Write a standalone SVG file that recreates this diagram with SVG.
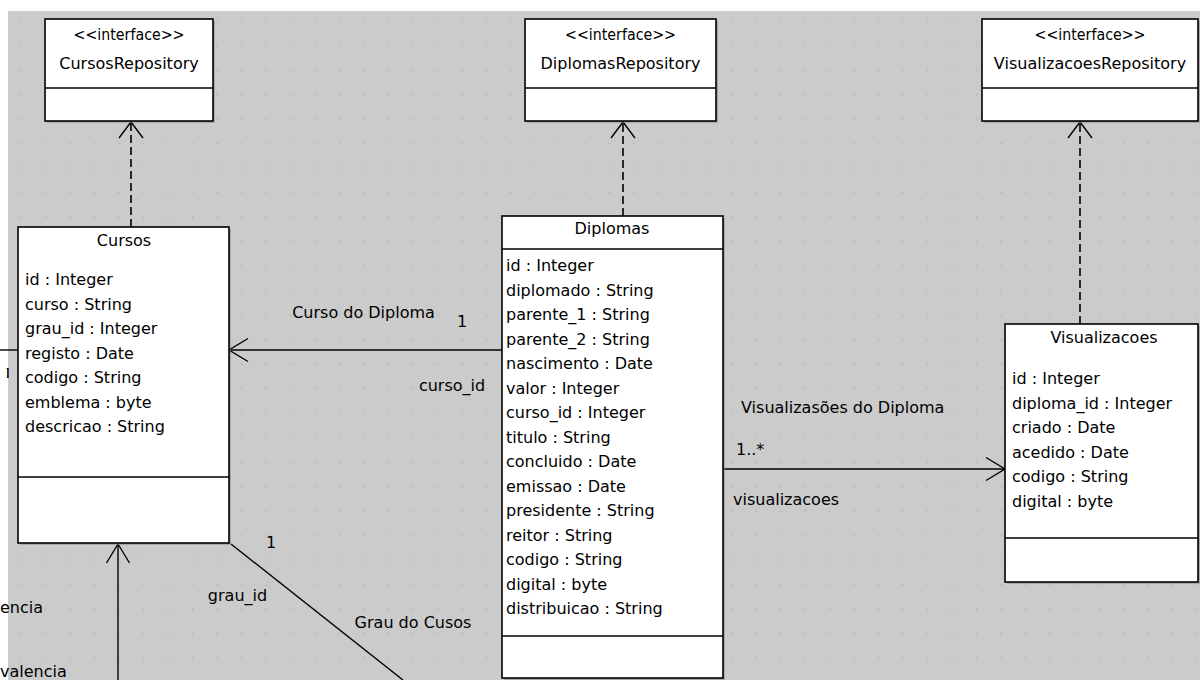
<svg xmlns="http://www.w3.org/2000/svg" width="1200" height="680" viewBox="0 0 1200 680">
<style>
text{font-family:"DejaVu Sans","Liberation Sans",sans-serif;font-size:16px;fill:#000}
.c{text-anchor:middle}
.box{fill:#fff;stroke:#000;stroke-width:1.6}
.sh{fill:#8c8c8c;opacity:.55}
.div{stroke:#000;stroke-width:1.6}
.ln{fill:none;stroke:#000;stroke-width:1.4}
.dash{fill:none;stroke:#000;stroke-width:1.6;stroke-dasharray:8 4}
</style>
<defs>
<pattern id="dots" x="20.25" y="20.25" width="24.5" height="24.5" patternUnits="userSpaceOnUse">
<rect width="1.5" height="1.5" fill="#b2b2b2"/>
</pattern>
<marker id="open" viewBox="-21 -14 23 28" refX="0" refY="0" markerWidth="23" markerHeight="28" markerUnits="userSpaceOnUse" orient="auto">
<path d="M-19,-11.5 L0,0 L-19,11.5" fill="none" stroke="#000" stroke-width="1.4"/>
</marker>
<marker id="real" viewBox="-18 -14 20 28" refX="0" refY="0" markerWidth="20" markerHeight="28" markerUnits="userSpaceOnUse" orient="auto">
<path d="M-16,-12 L0,0 L-16,12" fill="none" stroke="#000" stroke-width="1.4"/>
</marker>
<clipPath id="lc"><rect x="6.5" y="368" width="2.5" height="10"/></clipPath>
</defs>
<rect width="1200" height="680" fill="#fff"/>
<rect x="8" y="11" width="1192" height="669" fill="#cbcbcb"/>
<rect x="8" y="11" width="1192" height="669" fill="url(#dots)"/>

<g id="connectors">
<path class="dash" d="M131,227 L131,122" marker-end="url(#real)"/>
<path class="dash" d="M623,216 L623,122" marker-end="url(#real)"/>
<path class="dash" d="M1080,324 L1080,122" marker-end="url(#real)"/>
<path class="ln" d="M502,350 L229,350" marker-end="url(#open)"/>
<path class="ln" d="M723,469 L1005,469" marker-end="url(#open)"/>
<path class="ln" d="M118,680 L118,544" marker-end="url(#open)"/>
<path class="ln" d="M231,544 L403,680"/>
<path class="ln" d="M0,350 L18,350"/>
<text x="363.5" y="318" class="c">Curso do Diploma</text>
<text x="462" y="327" class="c">1</text>
<text x="452" y="391" class="c">curso_id</text>
<text x="741" y="413">Visualizasões do Diploma</text>
<text x="736" y="455">1..*</text>
<text x="733" y="505">visualizacoes</text>
<text x="271" y="548" class="c">1</text>
<text x="237.5" y="601" class="c">grau_id</text>
<text x="413" y="628" class="c">Grau do Cusos</text>
<text x="0" y="613">encia</text>
<text x="0" y="677">valencia</text>
<text x="2.5" y="379" clip-path="url(#lc)">1</text>
</g>

<g id="CursosRepository">
<rect class="sh" x="47" y="21" width="168" height="102"/>
<rect class="box" x="45" y="19" width="168" height="102"/>
<line class="div" x1="45" y1="88" x2="213" y2="88"/>
<text x="129" y="40" class="c" textLength="111" lengthAdjust="spacingAndGlyphs">&lt;&lt;interface&gt;&gt;</text>
<text x="129" y="69" class="c">CursosRepository</text>
</g>

<g id="DiplomasRepository">
<rect class="sh" x="527" y="21" width="191" height="102"/>
<rect class="box" x="525" y="19" width="191" height="102"/>
<line class="div" x1="525" y1="88" x2="716" y2="88"/>
<text x="620.5" y="40" class="c" textLength="111" lengthAdjust="spacingAndGlyphs">&lt;&lt;interface&gt;&gt;</text>
<text x="620.5" y="69" class="c">DiplomasRepository</text>
</g>

<g id="VisualizacoesRepository">
<rect class="sh" x="984" y="21" width="216" height="102"/>
<rect class="box" x="982" y="19" width="216" height="102"/>
<line class="div" x1="982" y1="88" x2="1198" y2="88"/>
<text x="1090" y="40" class="c" textLength="111" lengthAdjust="spacingAndGlyphs">&lt;&lt;interface&gt;&gt;</text>
<text x="1090" y="69" class="c">VisualizacoesRepository</text>
</g>

<g id="Cursos">
<rect class="sh" x="20" y="229" width="211" height="316"/>
<rect class="box" x="18" y="227" width="211" height="316"/>
<line class="div" x1="18" y1="477" x2="229" y2="477"/>
<text x="124" y="246" class="c">Cursos</text>
<text x="25" y="285">id : Integer</text>
<text x="25" y="309.5">curso : String</text>
<text x="25" y="334">grau_id : Integer</text>
<text x="25" y="358.5">registo : Date</text>
<text x="25" y="383">codigo : String</text>
<text x="25" y="407.5">emblema : byte</text>
<text x="25" y="432">descricao : String</text>
</g>

<g id="Diplomas">
<rect class="sh" x="504" y="218" width="221" height="462"/>
<rect class="box" x="502" y="216" width="221" height="462"/>
<line class="div" x1="502" y1="249" x2="723" y2="249"/>
<line class="div" x1="502" y1="636" x2="723" y2="636"/>
<text x="612" y="234" class="c">Diplomas</text>
<text x="506" y="271">id : Integer</text>
<text x="506" y="295.5">diplomado : String</text>
<text x="506" y="320">parente_1 : String</text>
<text x="506" y="344.5">parente_2 : String</text>
<text x="506" y="369">nascimento : Date</text>
<text x="506" y="393.5">valor : Integer</text>
<text x="506" y="418">curso_id : Integer</text>
<text x="506" y="442.5">titulo : String</text>
<text x="506" y="467">concluido : Date</text>
<text x="506" y="491.5">emissao : Date</text>
<text x="506" y="516">presidente : String</text>
<text x="506" y="540.5">reitor : String</text>
<text x="506" y="565">codigo : String</text>
<text x="506" y="589.5">digital : byte</text>
<text x="506" y="614">distribuicao : String</text>
</g>

<g id="Visualizacoes">
<rect class="sh" x="1007" y="326" width="193" height="258"/>
<rect class="box" x="1005" y="324" width="193" height="258"/>
<line class="div" x1="1005" y1="538" x2="1198" y2="538"/>
<text x="1104" y="343" class="c">Visualizacoes</text>
<text x="1012" y="384">id : Integer</text>
<text x="1012" y="408.5">diploma_id : Integer</text>
<text x="1012" y="433">criado : Date</text>
<text x="1012" y="457.5">acedido : Date</text>
<text x="1012" y="482">codigo : String</text>
<text x="1012" y="506.5">digital : byte</text>
</g>
</svg>
